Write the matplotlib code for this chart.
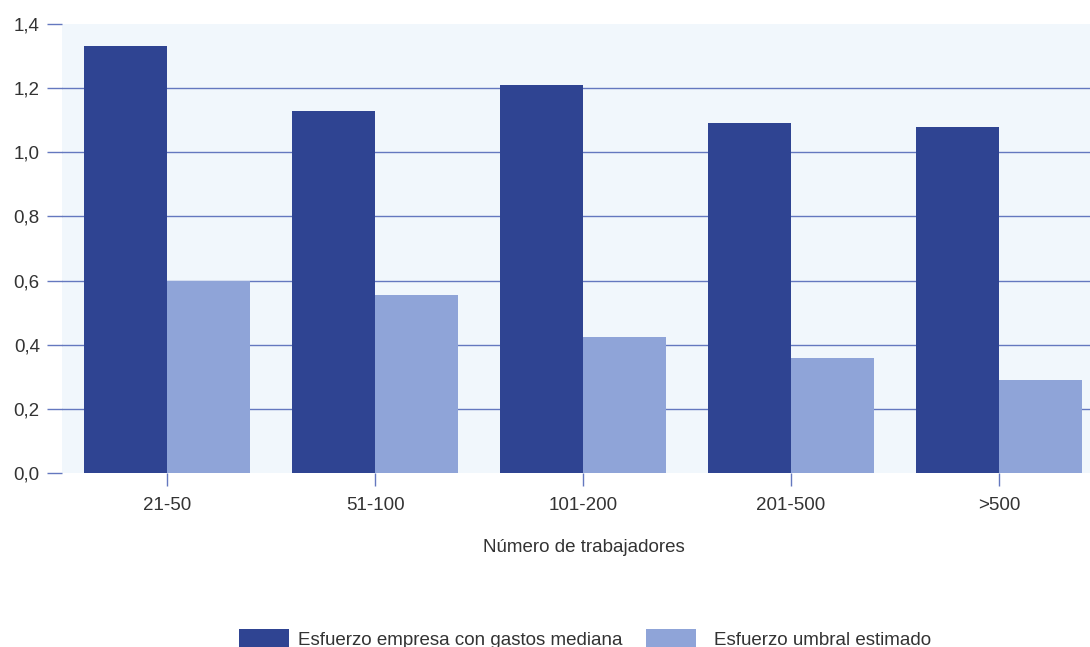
import numpy as np
import matplotlib.pyplot as plt
from matplotlib.patches import Patch

plt.rcParams['font.family'] = ['Liberation Sans', 'DejaVu Sans']

# Data
categories = ['21-50', '51-100', '101-200', '201-500', '>500']
esfuerzo_empresa = [1.33, 1.13, 1.21, 1.09, 1.08]
esfuerzo_umbral = [0.60, 0.555, 0.425, 0.36, 0.29]
y_ticks = [0.0, 0.2, 0.4, 0.6, 0.8, 1.0, 1.2, 1.4]
grid_levels = [0.2, 0.4, 0.6, 0.8, 1.0, 1.2]
series_labels = ['Esfuerzo empresa con gastos mediana', 'Esfuerzo umbral estimado']

dark = '#2f4492'
light = '#8fa4d8'
grid_col = '#6478bf'
text_col = '#333333'

fig = plt.figure(figsize=(10.9, 6.47), dpi=100)
ax = fig.add_axes([62 / 1090, 174 / 647, 1028 / 1090, 449 / 647])
ax.set_facecolor('#f1f7fc')

x = np.arange(len(categories))
w = 0.4
for lvl in grid_levels:
    ax.axhline(lvl, color=grid_col, linewidth=1.0, zorder=1)
ax.bar(x - w / 2, esfuerzo_empresa, width=w, color=dark, zorder=2)
ax.bar(x + w / 2, esfuerzo_umbral, width=w, color=light, zorder=2)

ax.set_xlim(-0.505, 4.4375)
ax.set_ylim(0, 1.4)
for s in ax.spines.values():
    s.set_visible(False)

ax.set_yticks(y_ticks)
ax.set_yticklabels([f'{v:.1f}'.replace('.', ',') for v in y_ticks])
ax.set_xticks(x)
ax.set_xticklabels(categories)
ax.tick_params(axis='y', length=11, width=1.0, color=grid_col, pad=5,
               labelsize=13.5, labelcolor=text_col)
ax.tick_params(axis='x', length=9, width=1.0, color=grid_col, pad=8,
               labelsize=13.5, labelcolor=text_col)

fig.text(584 / 1090, 1 - 548 / 647, 'Número de trabajadores', ha='center',
         va='center', fontsize=13.5, color=text_col)

# two single-entry legends, placed like the original
for col, lab, x0, tpad in [(dark, series_labels[0], 239, 0.48),
                           (light, series_labels[1], 646, 0.96)]:
    fig.legend([Patch(facecolor=col, edgecolor='none')], [lab],
               loc='center left', bbox_to_anchor=(x0 / 1090, 1 - 639 / 647),
               frameon=False, fontsize=13.5, handlelength=2.67, handleheight=1.17,
               handletextpad=tpad, borderpad=0, borderaxespad=0,
               labelcolor=text_col)

fig.savefig('out.png', dpi=100)
